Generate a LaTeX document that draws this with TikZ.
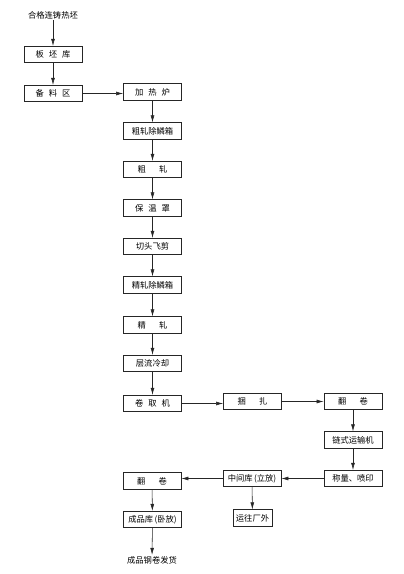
\documentclass[tikz,border=0pt]{standalone}
\usepackage{fontspec}
\setmainfont{Noto Sans CJK SC}
\usetikzlibrary{arrows.meta}
\newcommand{\gapA}{\hspace{0.6em}}
\newcommand{\gapB}{\hspace{1.6em}}
\begin{document}
\begin{tikzpicture}[x=1pt,y=-1pt,
  box/.style={draw=black!85,line width=0.65pt,minimum width=58pt,minimum height=16.5pt,inner sep=0pt,font=\fontsize{8.3}{9}\selectfont},
  lbl/.style={inner sep=1pt,font=\fontsize{8.3}{9}\selectfont},
  arr/.style={draw=black!85,line width=0.55pt,-{Latex[length=7pt,width=3.8pt]}}]
\useasboundingbox (0,0) rectangle (404,574);
\node[lbl] (t0) at (53,15) {合格连铸热坯};
\node[box] (b1) at (53,54.5) {板\gapA 坯\gapA 库};
\node[box] (b2) at (53,93.5) {备\gapA 料\gapA 区};
\node[box] (c1) at (152.5,92) {加\gapA 热\gapA 炉};
\node[box] (c2) at (152.5,131) {粗轧除鳞箱};
\node[box] (c3) at (152.5,169.5) {粗\gapB 轧};
\node[box] (c4) at (152.5,208) {保\gapA 温\gapA 罩};
\node[box] (c5) at (152.5,246.5) {切头飞剪};
\node[box] (c6) at (152.5,285) {精轧除鳞箱};
\node[box] (c7) at (152.5,325) {精\gapB 轧};
\node[box] (c8) at (152.5,363.5) {层流冷却};
\node[box] (c9) at (152.5,403.5) {卷\gapA 取\gapA 机};
\node[box] (d1) at (252.5,401.5) {捆\gapB 扎};
\node[box] (e1) at (353,401.5) {翻\gapB 卷};
\node[box] (e2) at (353,440) {链式运输机};
\node[box] (e3) at (353,478.5) {称量、喷印};
\node[box] (d2) at (252,478.5) {中间库\,(立放)};
\node[box,minimum width=39pt] (d3) at (252.5,518) {运往厂外};
\node[box] (f1) at (152,481) {翻\gapB 卷};
\node[box] (f2) at (152.5,519.5) {成品库\,(卧放)};
\node[lbl] (t1) at (152,560) {成品钢卷发货};
\draw[arr] (t0) -- (b1);
\draw[arr] (b1) -- (b2);
\draw[arr] (b2.east) -- (c1.west |- b2.east);
\draw[arr] (c1) -- (c2);
\draw[arr] (c2) -- (c3);
\draw[arr] (c3) -- (c4);
\draw[arr] (c4) -- (c5);
\draw[arr] (c5) -- (c6);
\draw[arr] (c6) -- (c7);
\draw[arr] (c7) -- (c8);
\draw[arr] (c8) -- (c9);
\draw[arr] (c9.east) -- (d1.west |- c9.east);
\draw[arr] (d1) -- (e1);
\draw[arr] (e1) -- (e2);
\draw[arr] (e2) -- (e3);
\draw[arr] (e3) -- (d2);
\draw[arr] (d2.west) -- (f1.east |- d2.west);
\draw[arr] (d2) -- (d3);
\draw[arr] (f1) -- (f2);
\draw[arr] (f2) -- (t1);
\end{tikzpicture}
\end{document}
